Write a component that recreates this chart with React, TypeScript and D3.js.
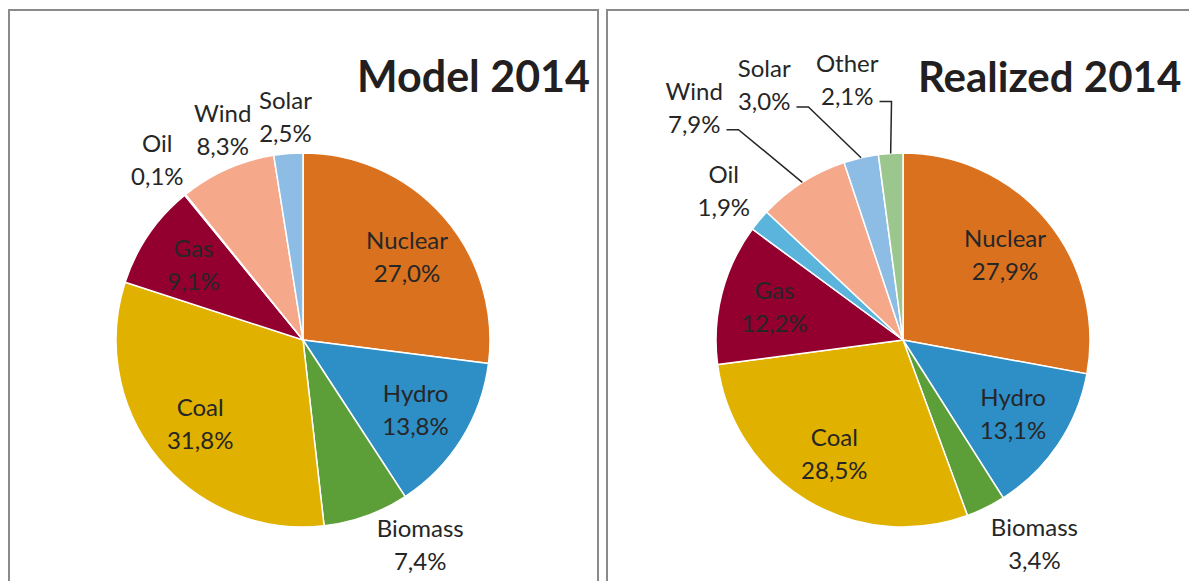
import React, { useEffect, useRef } from "react";
import * as d3 from "d3";

const W = 1189;
const H = 581;

// Model 2014
const modelNames = ["Nuclear", "Hydro", "Biomass", "Coal", "Gas", "Oil", "Wind", "Solar"];
const modelValues = [27.0, 13.8, 7.4, 31.8, 9.1, 0.1, 8.3, 2.5];

// Realized 2014
const realizedNames = ["Nuclear", "Hydro", "Biomass", "Coal", "Gas", "Oil", "Wind", "Solar", "Other"];
const realizedValues = [27.9, 13.1, 3.4, 28.5, 12.2, 1.9, 7.9, 3.0, 2.1];

const colors: Record<string, string> = {
  Nuclear: "#DA711F",
  Hydro: "#2E8EC6",
  Biomass: "#5C9E38",
  Coal: "#E1B100",
  Gas: "#930030",
  Oil: "#5BB4DC",
  Wind: "#F5A98A",
  Solar: "#8DBDE5",
  Other: "#9BC78F",
};

const insideNames = ["Nuclear", "Hydro", "Coal", "Gas"];

const R = 187;
const FS = 24;
const LH = 33;
const FONT = "Lato, 'Open Sans', sans-serif";
const TEXT = "#262626";

const fmt = (v: number) => d3.format(".1f")(v).replace(".", ",") + "%";

// label layout tweaks (angle offset in degrees, gap from rim, or moved labels with leader)
type Tweak = { da?: number; gap?: number; angle?: number; r?: number; leader?: boolean };
const modelTweaks: Record<string, Tweak> = {
  Biomass: { da: -10, gap: 20 },
  Wind: { da: 3, gap: 11 },
  Nuclear: { da: 3 },
};
const realizedTweaks: Record<string, Tweak> = {
  Biomass: { da: -6.5, gap: 26 },
  Wind: { angle: 318, r: 312, leader: true },
  Solar: { angle: 331.4, r: 290, leader: true },
  Other: { angle: 347.9, r: 266, leader: true },
};

const panels = [
  { title: "Model 2014", names: modelNames, values: modelValues, tweaks: modelTweaks, x: 9, cx: 303, titleX: 590, anchor: "end", titleSize: 43 },
  { title: "Realized 2014", names: realizedNames, values: realizedValues, tweaks: realizedTweaks, x: 607, cx: 903, titleX: 918, anchor: "start", titleSize: 42 },
];

const App = () => {
  const ref = useRef<SVGSVGElement>(null);

  useEffect(() => {
    const svg = d3.select(ref.current);
    svg.selectAll("*").remove();
    const cy = 340;

    panels.forEach((p) => {
      svg
        .append("rect")
        .attr("x", p.x)
        .attr("y", 10)
        .attr("width", 589)
        .attr("height", 620)
        .attr("fill", "#fff")
        .attr("stroke", "#8a8a8a")
        .attr("stroke-width", 2);

      svg
        .append("text")
        .attr("x", p.titleX)
        .attr("y", 92)
        .attr("text-anchor", p.anchor)
        .attr("font-family", FONT)
        .attr("font-weight", 700)
        .attr("font-size", p.titleSize)
        .attr("fill", "#231F20")
        .text(p.title);

      const g = svg.append("g").attr("transform", `translate(${p.cx},${cy})`);

      const pie = d3.pie<number>().sort(null).value((d) => d);
      const arcsData = pie(p.values);
      const arc = d3.arc<d3.PieArcDatum<number>>().innerRadius(0).outerRadius(R);

      g.selectAll("path.slice")
        .data(arcsData)
        .join("path")
        .attr("class", "slice")
        .attr("d", arc)
        .attr("fill", (d, i) => colors[p.names[i]])
        .attr("stroke", "#fff")
        .attr("stroke-width", 1.5);

      arcsData.forEach((a, i) => {
        const name = p.names[i];
        const mid = (a.startAngle + a.endAngle) / 2;
        const label = g
          .append("text")
          .attr("font-family", FONT)
          .attr("font-size", FS)
          .attr("fill", TEXT)
          .attr("text-anchor", "middle");
        label.append("tspan").attr("x", 0).attr("y", -LH / 2).attr("dy", "0.35em").text(name);
        label.append("tspan").attr("x", 0).attr("y", LH / 2).attr("dy", "0.35em").text(fmt(p.values[i]));
        const bb = (label.node() as SVGTextElement).getBBox();
        const hw = bb.width / 2;
        const hh = 25;

        let x = 0;
        let y = 0;
        const tw = p.tweaks[name];
        if (insideNames.includes(name)) {
          const ang = mid + (((tw && tw.da) || 0) * Math.PI) / 180;
          const r = R * 0.71;
          x = Math.sin(ang) * r;
          y = -Math.cos(ang) * r;
        } else if (tw && tw.angle !== undefined) {
          const ang = (tw.angle * Math.PI) / 180;
          x = Math.sin(ang) * (tw.r as number);
          y = -Math.cos(ang) * (tw.r as number);
        } else {
          const ang = mid + (((tw && tw.da) || 0) * Math.PI) / 180;
          const dx = Math.sin(ang);
          const dy = -Math.cos(ang);
          const ext = Math.min(hw / Math.max(Math.abs(dx), 1e-6), hh / Math.max(Math.abs(dy), 1e-6));
          const r = R + ((tw && tw.gap) || 12) + ext;
          x = dx * r;
          y = dy * r;
        }
        label.attr("transform", `translate(${x},${y})`);

        if (tw && tw.leader) {
          const w2 = (label.select("tspan:nth-child(2)").node() as SVGTSpanElement).getComputedTextLength();
          const sx = x + w2 / 2 + 6;
          const sy = y + LH / 2 + 5;
          const ex = Math.sin(mid) * R;
          const ey = -Math.cos(mid) * R;
          const line = d3.line();
          g.append("path")
            .attr("d", line([[sx, sy], [sx + 12, sy], [ex, ey]]))
            .attr("fill", "none")
            .attr("stroke", TEXT)
            .attr("stroke-width", 1.5);
        }
      });
    });
  }, []);

  return (
    <div style={{ position: "absolute", left: 0, top: 0 }}>
      <svg ref={ref} width={W} height={H} style={{ display: "block", background: "#fff" }} />
    </div>
  );
};

export default App;
